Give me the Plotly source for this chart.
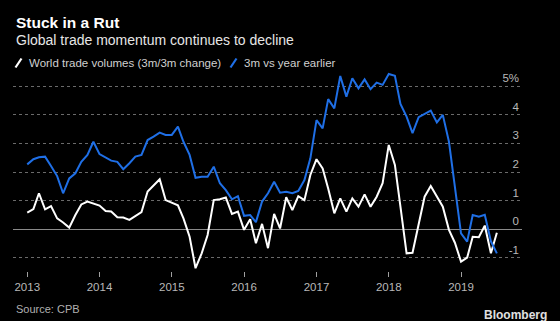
import plotly.graph_objects as go
import pandas as pd

# ---- Data (monthly, Jan 2013 – Jul 2019) ----
dates = pd.date_range("2013-01-01", "2019-07-01", freq="MS")

world_trade_3m3m = [
    0.58, 0.71, 1.26, 0.70, 0.81, 0.38, 0.24, 0.06, 0.50, 0.87, 0.97, 0.91,   # 2013
    0.83, 0.64, 0.62, 0.42, 0.41, 0.33, 0.46, 0.60, 1.32, 1.55, 1.75, 1.02,   # 2014
    0.93, 0.84, 0.38, -0.26, -1.36, -0.84, -0.20, 1.02, 1.05, 1.11, 0.54, 0.62,  # 2015
    -0.02, 0.35, -0.49, 0.19, -0.66, 0.54, 0.03, 1.12, 0.67, 1.16, 1.02, 1.90,  # 2016
    2.45, 2.13, 1.43, 0.56, 1.08, 0.62, 1.08, 0.79, 1.22, 0.79, 1.14, 1.61,   # 2017
    2.95, 2.25, 0.79, -0.84, -0.82, 0.21, 1.14, 1.51, 1.14, 0.79, -0.02, -0.47,  # 2018
    -1.13, -0.99, -0.26, -0.28, 0.13, -0.84, -0.12,                            # 2019
]

yoy_3m = [
    2.27, 2.45, 2.52, 2.54, 2.21, 1.86, 1.26, 1.78, 1.96, 2.36, 2.60, 3.06,   # 2013
    2.63, 2.52, 2.40, 2.36, 2.10, 2.31, 2.54, 2.60, 3.12, 3.24, 3.38, 3.30,   # 2014
    3.30, 3.59, 3.06, 2.60, 1.80, 1.84, 1.84, 2.19, 1.61, 1.37, 1.05, 1.16,   # 2015
    0.47, 0.50, 0.25, 0.97, 1.26, 1.66, 1.28, 1.31, 1.26, 1.34, 1.72, 2.48,   # 2016
    3.82, 3.53, 4.55, 4.23, 5.36, 4.64, 5.28, 4.93, 5.24, 4.90, 5.13, 5.05,   # 2017
    5.43, 5.37, 4.38, 3.94, 3.36, 3.92, 4.03, 4.15, 3.74, 4.00, 3.06, 1.55,   # 2018
    -0.14, -0.43, 0.50, 0.44, 0.51, -0.42, -0.84,                             # 2019
]

series_names = ["World trade volumes (3m/3m change)", "3m vs year earlier"]
ytick_vals = [-1, 0, 1, 2, 3, 4, 5]
ytick_text = ["-1", "0", "1", "2", "3", "4", "5%"]
year_ticks = [f"{y}-01-01" for y in range(2013, 2020)]
year_labels = [str(y) for y in range(2013, 2020)]

# ---- Layout geometry (pixels) ----
W_PX, H_PX = 560, 321
L, R, T, B = 13, 522, 72, 271
PW, PH = R - L, B - T

def px(x):
    return (x - L) / PW

def py(y):
    return (B - y) / PH

WHITE = "#ffffff"
BLUE = "#1f6fe6"
FONT = "Liberation Sans"

fig = go.Figure()
fig.add_trace(go.Scatter(x=dates, y=world_trade_3m3m, mode="lines",
                         name=series_names[0],
                         line=dict(color=WHITE, width=2)))
fig.add_trace(go.Scatter(x=dates, y=yoy_3m, mode="lines",
                         name=series_names[1],
                         line=dict(color=BLUE, width=2)))

annotations = [
    dict(text="<b>Stuck in a Rut</b>", x=px(14), y=py(23), xref="paper", yref="paper",
         xanchor="left", yanchor="middle", showarrow=False,
         font=dict(family=FONT, size=15.5, color="#ffffff")),
    dict(text="Global trade momentum continues to decline", x=px(14), y=py(40),
         xref="paper", yref="paper", xanchor="left", yanchor="middle", showarrow=False,
         font=dict(family=FONT, size=14, color="#e6e6e6")),
    dict(text=series_names[0], x=px(27), y=py(63), xref="paper", yref="paper",
         xanchor="left", yanchor="middle", showarrow=False,
         font=dict(family=FONT, size=11.5, color="#d0d0d0")),
    dict(text=series_names[1], x=px(242), y=py(63), xref="paper", yref="paper",
         xanchor="left", yanchor="middle", showarrow=False,
         font=dict(family=FONT, size=11.5, color="#d0d0d0")),
    dict(text="Source: CPB", x=px(14), y=py(309), xref="paper", yref="paper",
         xanchor="left", yanchor="middle", showarrow=False,
         font=dict(family=FONT, size=11, color="#b0b0b0")),
    dict(text="<b>Bloomberg</b>", x=px(549), y=py(315), xref="paper", yref="paper",
         xanchor="right", yanchor="middle", showarrow=False,
         font=dict(family=FONT, size=12, color="#e0e0e0")),
]

shapes = [
    dict(type="line", xref="paper", yref="paper", x0=px(15.5), y0=py(67.5),
         x1=px(21.5), y1=py(58.5), line=dict(color=WHITE, width=2.2)),
    dict(type="line", xref="paper", yref="paper", x0=px(230.5), y0=py(67.5),
         x1=px(236.5), y1=py(58.5), line=dict(color=BLUE, width=2.2)),
]

fig.update_layout(
    width=W_PX, height=H_PX,
    margin=dict(l=L, r=W_PX - R, t=T, b=H_PX - B, pad=0),
    paper_bgcolor="#000000", plot_bgcolor="#000000",
    showlegend=False,
    annotations=annotations, shapes=shapes,
    font=dict(family=FONT, color="#b0b0b0"),
)

fig.update_xaxes(
    type="date", range=["2012-10-21", "2019-11-05"],
    tickvals=year_ticks, ticktext=year_labels,
    ticks="outside", ticklen=5, tickcolor="#a0a0a0", tickwidth=1,
    showgrid=False, zeroline=False, showline=False,
    tickfont=dict(family=FONT, size=11.5, color="#b8b8b8"),
)
fig.update_yaxes(
    range=[-1.458, 5.50], side="right",
    tickvals=ytick_vals, ticktext=ytick_text,
    ticklabelposition="inside top",
    showgrid=True, gridcolor="#6a6a6a", griddash="dot", gridwidth=1,
    zeroline=True, zerolinecolor="#8a8a8a", zerolinewidth=1,
    showline=False, ticks="",
    tickfont=dict(family=FONT, size=11.5, color="#b8b8b8"),
)

fig.write_html("out.html")
